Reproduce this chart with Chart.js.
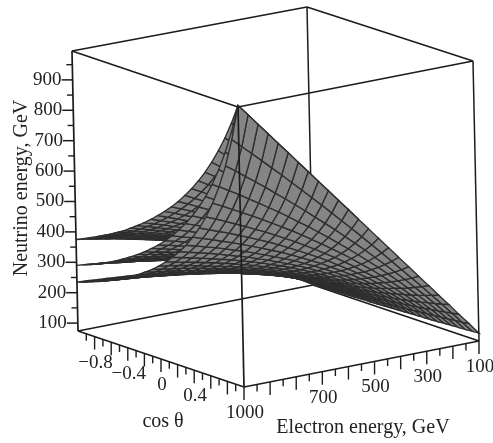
<!DOCTYPE html>
<html><head><meta charset="utf-8"><style>html,body{margin:0;background:#fff}canvas{display:block}</style>
<script src="https://cdn.jsdelivr.net/npm/chart.js@4/dist/chart.umd.min.js"></script></head><body>
<canvas id="c" width="493" height="443"></canvas>
<script>
const energyTicks=[100,200,300,400,500,600,700,800,900,1000];
const energyMinor=[150,250,350,450,550,650,750,850,950];
const energyLabels=[100,300,500,700,1000];
const cosTicks=[-0.8,-0.6,-0.4,-0.2,0,0.2,0.4,0.6,0.8];
const cosMinor=[-0.9,-0.7,-0.5,-0.3,-0.1,0.1,0.3,0.5,0.7,0.9];
const cosLabels=[-0.8,-0.4,0,0.4];
const neutrinoTicks=[100,200,300,400,500,600,700,800,900];
const neutrinoMinor=[150,250,350,450,550,650,750,850,950];
const energyGrid=[100,137.5,175,212.5,250,287.5,325,362.5,400,437.5,475,512.5,550,587.5,625,662.5,700,737.5,775,812.5,850,887.5,925,962.5,1000];
const cosGrid=[-1,-0.9167,-0.8333,-0.75,-0.6667,-0.5833,-0.5,-0.4167,-0.3333,-0.25,-0.1667,-0.0833,0,0.0833,0.1667,0.25,0.3333,0.4167,0.5,0.5833,0.6667,0.75,0.8333,0.9167,1];
// Neutrino energy: rows follow energyGrid, columns follow cosGrid
const lowerSheet=[
[75,76,77,78,79,79,80,81,82,83,84,85,86,87,88,89,90,91,92,94,95,96,97,99,100],
[95,96,97,99,100,101,103,104,106,107,109,111,112,114,116,118,120,122,124,126,128,130,133,135,138],
[111,113,115,117,119,121,123,125,127,129,131,134,136,139,141,144,147,150,153,156,160,163,167,171,175],
[126,128,130,132,135,137,140,143,145,148,151,154,158,161,165,169,173,177,181,186,190,196,201,207,213],
[138,140,143,146,149,152,155,158,162,166,169,173,178,182,187,191,197,202,208,214,220,227,234,242,250],
[148,151,155,158,161,165,169,173,177,181,186,191,196,201,207,213,219,226,233,241,249,257,267,277,288],
[158,161,165,169,173,177,181,186,190,195,201,206,212,219,225,233,240,248,257,266,276,287,299,311,325],
[166,170,174,178,183,187,192,197,203,208,215,221,228,235,243,251,260,270,280,291,303,316,330,345,363],
[174,178,182,187,192,197,202,208,214,220,227,234,242,250,259,269,279,290,302,314,329,344,361,379,400],
[180,185,190,195,200,205,211,218,224,231,239,247,255,264,274,285,296,309,322,337,353,371,391,413,438],
[186,191,196,202,207,213,220,227,234,241,250,258,268,278,289,300,313,327,342,359,378,398,421,446,475],
[192,197,202,208,214,221,227,235,242,251,259,269,279,290,302,315,329,345,362,380,401,424,450,479,513],
[197,202,208,214,220,227,235,242,250,259,269,279,290,302,315,329,344,361,380,400,423,449,478,512,550],
[201,207,213,219,226,233,241,249,258,267,277,288,300,313,327,342,359,377,397,420,445,474,507,544,588],
[206,212,218,225,232,239,247,256,265,275,285,297,309,323,338,354,372,392,414,439,466,498,534,576,625],
[210,216,222,229,237,244,253,262,272,282,293,305,319,333,349,366,385,407,430,457,487,522,561,608,663],
[213,220,226,233,241,249,258,267,278,288,300,313,327,342,359,377,397,420,446,474,507,544,588,639,700],
[217,223,230,238,245,254,263,273,283,295,307,320,335,351,368,388,409,433,461,491,526,567,614,670,738],
[220,226,234,241,250,258,268,278,289,300,313,327,342,359,378,398,421,446,475,508,545,589,640,701,775],
[223,229,237,245,253,262,272,282,294,306,319,334,349,367,386,407,431,458,489,523,563,610,665,732,813],
[225,233,240,248,257,266,276,287,299,311,325,340,356,374,394,417,442,470,502,539,581,631,691,762,850],
[228,235,243,251,260,270,280,291,303,316,330,346,363,381,402,426,452,481,515,553,598,651,715,792,888],
[230,238,246,254,263,273,284,295,307,321,335,351,369,388,410,434,461,492,527,568,615,672,739,822,925],
[233,240,248,257,266,276,287,299,311,325,340,356,375,395,417,442,470,503,539,582,632,691,763,851,963],
[235,242,251,260,269,279,290,302,315,329,345,361,380,401,424,450,479,513,551,595,648,710,786,880,1000]];
// The two upper sheets show only at high electron energy: rows start at energyGrid[12] = 550
const upperRowStart=12;
const middleSheet=[
[234,240,246,252,259,266,274,281,290,299,308,318,329,340,352,365,380,395,411,429,449,471,495,521,550],
[241,247,253,260,267,275,283,291,300,309,319,330,342,354,367,382,397,414,432,452,474,498,525,554,588],
[247,253,260,267,275,283,291,300,309,319,330,342,354,367,382,397,414,432,452,474,498,525,554,588,625],
[253,259,266,274,282,290,299,308,318,329,340,353,366,380,395,412,430,450,471,495,522,551,584,621,663],
[258,265,272,280,288,297,306,316,327,338,350,363,377,392,408,426,445,466,490,515,544,576,612,653,700],
[263,270,278,286,294,303,313,323,334,346,359,373,387,403,421,440,460,483,508,536,567,602,641,686,738],
[267,275,283,291,300,310,320,330,342,354,368,382,398,414,433,453,475,499,525,555,589,627,669,718,775],
[272,279,288,296,306,315,326,337,349,362,376,391,407,425,444,465,488,514,542,574,610,651,697,750,813],
[276,284,292,301,311,321,332,343,356,369,384,399,416,435,455,477,502,529,559,593,631,675,725,782,850],
[280,288,296,306,316,326,337,349,362,376,391,407,425,444,466,489,514,543,575,611,651,698,751,814,888],
[283,292,301,310,320,331,343,355,368,383,398,415,434,454,476,500,527,557,590,628,672,721,778,845,925],
[287,295,304,314,325,336,348,360,374,389,405,423,442,463,485,511,539,570,605,645,691,744,805,876,963],
[290,299,308,318,329,340,352,366,380,395,412,430,449,471,495,521,550,583,620,662,710,766,831,907,1000]];
const upperSheet=[
[287,293,299,305,312,319,326,333,341,350,358,368,377,387,398,409,421,434,447,462,477,494,511,530,550],
[297,303,310,316,324,331,339,347,355,364,374,384,394,406,417,430,443,457,472,488,505,524,543,565,588],
[306,313,320,327,335,343,351,360,369,379,389,400,411,423,436,449,464,479,496,514,533,553,575,599,625],
[315,322,329,337,345,354,362,372,382,392,403,415,427,440,454,469,484,501,519,539,560,582,607,634,663],
[323,330,338,346,355,364,373,383,394,405,417,429,442,456,471,487,504,522,542,563,586,611,638,668,700],
[331,339,347,355,364,374,384,394,405,417,430,443,457,472,488,505,523,543,564,587,612,639,669,702,738],
[338,346,355,364,373,383,394,405,417,429,442,456,471,487,504,522,542,563,586,611,638,668,700,736,775],
[345,354,362,372,382,392,403,415,427,440,454,469,485,501,520,539,560,582,607,634,663,695,730,769,813],
[352,361,370,380,390,401,412,424,437,451,466,481,498,516,535,555,577,602,628,657,688,723,760,803,850],
[358,367,377,387,398,409,421,433,447,461,476,493,510,529,549,571,594,620,648,678,712,749,790,836,888],
[364,373,383,394,405,417,429,442,456,471,487,504,522,542,563,586,611,638,668,700,736,776,820,870,925],
[370,379,390,401,412,424,437,451,465,481,497,515,534,555,577,601,627,656,687,722,759,802,849,903,963],
[375,385,396,407,419,431,444,458,474,490,507,526,546,567,590,615,643,673,706,742,783,828,878,935,1000]];

function P(E,c,N){const e=(1000-E)/900,k=(1-c)/2,n=(N-74)/921;
 return {x:244+235*e-166*k-6*n,y:387-46*e-56*k-280*n+2*e*k*n};}
const ds=[];
const seg=(pts,col,w)=>ds.push({data:pts,showLine:true,pointRadius:0,borderColor:col,borderWidth:w,fill:false,order:ds.length});
const K='#1c1c1c',nLo=74,nHi=995;
// lines in front of the surface come first: Chart.js paints the lowest order last
seg([P(1000,1,nLo),P(1000,1,nHi)],K,1.7);
seg([P(1000,1,nHi),P(1000,-1,nHi)],K,1.7);
seg([P(1000,1,nHi),P(100,1,nHi)],K,1.7);
seg([P(1000,1,nLo),P(1000,-1,nLo)],K,1.7);
seg([P(1000,1,nLo),P(100,1,nLo)],K,1.7);
seg([P(1000,-1,nLo),P(1000,-1,nHi)],K,1.7);
seg([P(100,1,nLo),P(100,1,nHi)],K,1.5);
seg([P(100,-1,nHi),P(1000,-1,nHi)],K,1.7);
seg([P(100,-1,nHi),P(100,1,nHi)],K,1.7);
for(const E of energyTicks){const p=P(E,1,nLo);seg([p,{x:p.x,y:p.y+13}],K,1.4);}
for(const E of energyMinor){const p=P(E,1,nLo);seg([p,{x:p.x,y:p.y+7}],K,1.4);}
for(const c of cosTicks){const p=P(1000,c,nLo);seg([p,{x:p.x,y:p.y+13}],K,1.4);}
for(const c of cosMinor){const p=P(1000,c,nLo);seg([p,{x:p.x,y:p.y+7}],K,1.4);}
for(const n of neutrinoTicks){const p=P(1000,-1,n);seg([p,{x:p.x-11,y:p.y}],K,1.5);}
for(const n of neutrinoMinor){const p=P(1000,-1,n);seg([p,{x:p.x-6,y:p.y}],K,1.4);}
const sheets=[[lowerSheet,0],[middleSheet,upperRowStart],[upperSheet,upperRowStart]];
for(const [tab,start] of sheets){
 const pt=(r,i)=>P(energyGrid[r+start],cosGrid[i],tab[r][i]);
 for(let i=cosGrid.length-2;i>=0;i--)for(let r=tab.length-2;r>=0;r--){
  ds.push({data:[pt(r,i),pt(r+1,i),pt(r+1,i+1),pt(r,i+1),pt(r,i)],showLine:true,pointRadius:0,
   borderColor:'#2e2e2e',borderWidth:1.35,backgroundColor:'#858585',fill:'shape',order:ds.length});
 }}
seg([P(100,-1,nLo),P(100,-1,nHi)],K,1.5);
seg([P(100,-1,nLo),P(1000,-1,nLo)],K,1.7);
seg([P(100,-1,nLo),P(100,1,nLo)],K,1.7);
const fmt=v=>String(v).replace('-','\u2212');
const textPlugin={id:'t',afterDraw(ch){const g=ch.ctx,X=v=>ch.scales.x.getPixelForValue(v),Y=v=>ch.scales.y.getPixelForValue(v);
 g.save();g.fillStyle='#222';g.font='19px "Liberation Serif"';g.textBaseline='middle';
 g.textAlign='right';for(const n of neutrinoTicks){const p=P(1000,-1,n);g.fillText(n,X(p.x-11),Y(p.y));}
 g.textAlign='center';
 for(const E of energyLabels){const p=P(E,1,nLo);g.fillText(E,X(p.x+1),Y(p.y+26));}
 for(const c of cosLabels){const p=P(1000,c,nLo);g.fillText(fmt(c),X(p.x+1),Y(p.y+26));}
 g.font='20px "Liberation Serif"';
 g.fillText('cos \u03b8',X(163),Y(422));g.fillText('Electron energy, GeV',X(363),Y(428));
 g.translate(X(22),Y(188));g.rotate(-Math.PI/2);g.fillText('Neutrino energy, GeV',0,0);g.restore();}};
new Chart(document.getElementById('c'),{type:'scatter',data:{datasets:ds},plugins:[textPlugin],options:{responsive:false,animation:false,
 layout:{padding:0},events:[],plugins:{legend:{display:false},tooltip:{enabled:false}},
 scales:{x:{type:'linear',display:false,min:0,max:493},y:{type:'linear',display:false,min:0,max:443,reverse:true}}}});
</script></body></html>
